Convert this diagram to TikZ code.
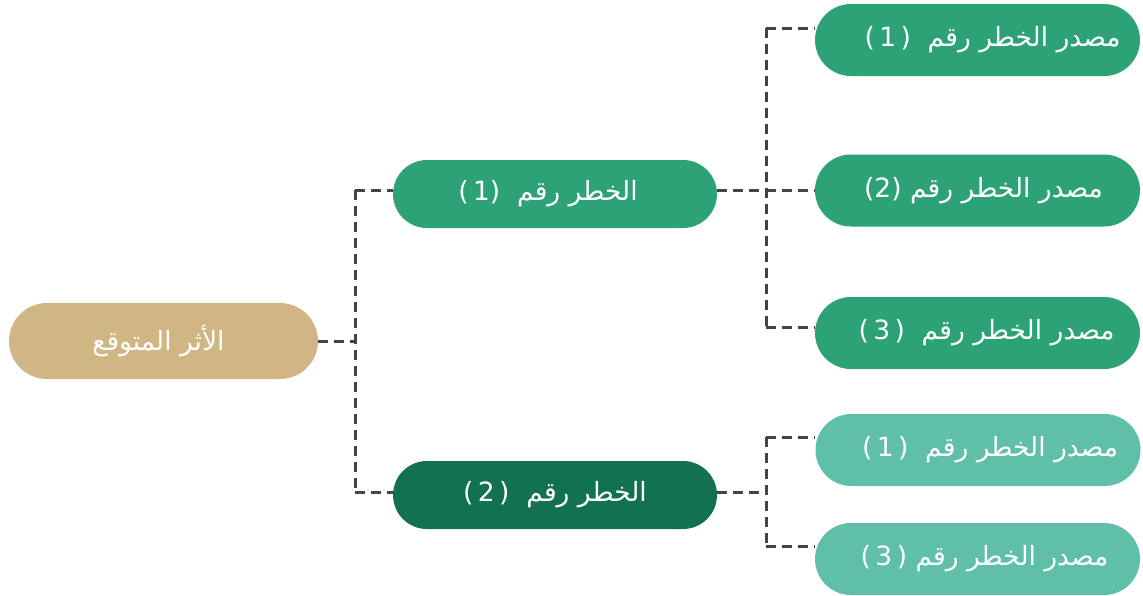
\documentclass[tikz,border=0pt]{standalone}
\usepackage{fontspec}
\TeXXeTstate=1
\newfontfamily\arabicfont[Script=Arabic]{DejaVu Sans}
\setmainfont{DejaVu Sans}
\definecolor{tan}{HTML}{D0B585}
\definecolor{midgreen}{HTML}{2EA277}
\definecolor{darkgreen}{HTML}{12714F}
\definecolor{lightgreen}{HTML}{5FBFA9}
\definecolor{linegray}{HTML}{444444}
\tikzset{
  pill/.style={rectangle, minimum width=#1, text=white, font=\fontsize{26.5}{30}\selectfont, inner sep=0pt},
  rootbox/.style={pill=309pt, minimum height=76pt, rounded corners=38pt, fill=tan},
  riskbox/.style={pill=324pt, minimum height=68pt, rounded corners=34pt},
  srcbox/.style={pill=325pt, minimum height=72pt, rounded corners=36pt},
  conn/.style={draw=linegray, line width=3pt, dash pattern=on 10pt off 6pt}
}
\newcommand{\ar}[1]{{\arabicfont\beginR #1\endR}}
\begin{document}
\begin{tikzpicture}[x=1pt,y=-1pt]
\useasboundingbox (0,0) rectangle (1143,595);
% nodes
\node[rootbox] (root) at (163.5,341) {\ar{الأثر المتوقع}\hspace*{10pt}};
\node[riskbox, fill=midgreen] (r1) at (555,194) {(\,1)\ \ \ar{الخطر رقم}\hspace*{14pt}};
\node[riskbox, fill=darkgreen] (r2) at (555,495) {(\,2\,)\ \ \ar{الخطر رقم}};
\node[srcbox, fill=midgreen] (s1) at (977.5,40) {\hspace*{30pt}(\,1\,)\ \ \ar{مصدر الخطر رقم}};
\node[srcbox, fill=midgreen] (s2) at (977.5,190.5) {\hspace*{12pt}(2)\ \ar{مصدر الخطر رقم}};
\node[srcbox, fill=midgreen] (s3) at (977.5,333) {\hspace*{18pt}(\,3\,)\ \ \ar{مصدر الخطر رقم}};
\node[srcbox, fill=lightgreen] (s4) at (978,450) {\hspace*{24pt}(\,1\,)\ \ \ar{مصدر الخطر رقم}};
\node[srcbox, fill=lightgreen] (s5) at (977.5,559) {\hspace*{14pt}(\,3\,)\ \ar{مصدر الخطر رقم}};
% junction coordinates
\coordinate (j0) at (355,341);
\coordinate (j0a) at (355,190);
\coordinate (j0b) at (355,492);
\coordinate (j1) at (766,190);
\coordinate (j1a) at (766,28);
\coordinate (j1c) at (766,327);
\coordinate (j2) at (766,492);
\coordinate (j2a) at (766,437);
\coordinate (j2b) at (766,546);
% connectors
\draw[conn] (root.east |- j0) -- (j0);
\draw[conn] (j0a) -- (j0b);
\draw[conn] (j0a) -- (r1.west |- j0a);
\draw[conn] (j0b) -- (r2.west |- j0b);
\draw[conn] (r1.east |- j1) -- (j1);
\draw[conn] (j1a) -- (j1c);
\draw[conn] (j1a) -- (s1.west |- j1a);
\draw[conn] (j1) -- (s2.west |- j1);
\draw[conn] (j1c) -- (s3.west |- j1c);
\draw[conn] (r2.east |- j2) -- (j2);
\draw[conn] (j2a) -- (j2b);
\draw[conn] (j2a) -- (s4.west |- j2a);
\draw[conn] (j2b) -- (s5.west |- j2b);
\end{tikzpicture}
\end{document}
